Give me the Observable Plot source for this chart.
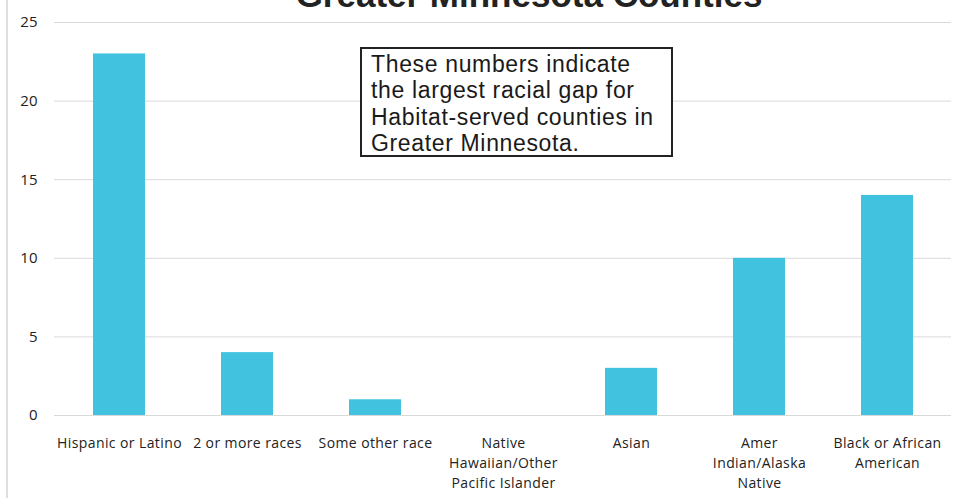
<!DOCTYPE html>
<html>
<head>
<meta charset="utf-8">
<script src="https://cdn.jsdelivr.net/npm/d3@7"></script>
<script src="https://cdn.jsdelivr.net/npm/@observablehq/plot@0.6"></script>
<style>
  html, body { margin: 0; padding: 0; background: #fff; }
  #wrap { position: relative; width: 960px; height: 498px; overflow: hidden; }
  #border { position: absolute; left: 6px; top: 0; width: 2px; height: 498px; background: #dedede; }
  #note {
    position: absolute; left: 360px; top: 47px; width: 313px; height: 110px;
    border: 2px solid #222; background: #fff; box-sizing: border-box;
    font-family: "Liberation Sans", Arial, Helvetica, sans-serif;
    font-size: 23px; line-height: 26.3px; color: #1a1a1a; letter-spacing: 0.65px;
    padding: 2px 0 0 9px; white-space: nowrap;
  }
  g[aria-label="x-axis tick label"] text { letter-spacing: 0.4px; }
</style>
</head>
<body>
<div id="wrap"></div>
<script>
const title = "Greater Minnesota Counties";
const categories = ["Hispanic or Latino", "2 or more races", "Some other race", "Native Hawaiian/Other Pacific Islander", "Asian", "Amer Indian/Alaska Native", "Black or African American"];
const tickLabels = ["Hispanic or Latino", "2 or more races", "Some other race", "Native\nHawaiian/Other\nPacific Islander", "Asian", "Amer\nIndian/Alaska\nNative", "Black or African\nAmerican"];
const values = [23, 4, 1, 0, 3, 10, 14];
const yTicks = [0, 5, 10, 15, 20, 25];
const noteLines = ["These numbers indicate", "the largest racial gap for", "Habitat-served counties in", "Greater Minnesota."];

const data = categories.map((c, i) => ({category: c, value: values[i]}));
const labelOf = new Map(categories.map((c, i) => [c, tickLabels[i]]));

const chart = Plot.plot({
  width: 960,
  height: 498,
  marginTop: 22,
  marginBottom: 83,
  marginLeft: 54,
  marginRight: 9,
  style: {fontFamily: "'Open Sans', sans-serif", color: "#222", background: "#fff", overflow: "visible"},
  x: {domain: categories, paddingInner: 0.594, paddingOuter: 0.297, label: null},
  y: {domain: [0, 25], label: null},
  marks: [
    Plot.ruleY(yTicks, {stroke: "#d9d9d9", strokeWidth: 1}),
    Plot.barY(data, {x: "category", y: "value", fill: "#41C3E0"}),
    Plot.axisY({ticks: yTicks, tickSize: 0, tickPadding: 17, label: null, fontSize: 15, fill: "#222"}),
    Plot.axisX({tickSize: 0, tickPadding: 18, label: null, fontSize: 14, lineHeight: 1.43, fill: "#222",
      tickFormat: (d) => labelOf.get(d)}),
    Plot.text([title], {frameAnchor: "top", text: (d) => d, dx: 26, dy: -40,
      fontSize: 35, fontWeight: "bold", fontFamily: "'Liberation Sans', Arial, sans-serif",
      fill: "#222", lineAnchor: "top"})
  ]
});

const wrap = document.getElementById("wrap");
wrap.appendChild(chart);
const border = document.createElement("div");
border.id = "border";
wrap.appendChild(border);
const note = document.createElement("div");
note.id = "note";
note.innerHTML = noteLines.map(s => `<div>${s}</div>`).join("");
wrap.appendChild(note);
</script>
</body>
</html>
